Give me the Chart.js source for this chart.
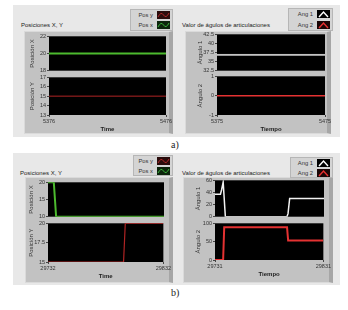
<!DOCTYPE html>
<html>
<head>
<meta charset="utf-8">
<script src="https://cdn.jsdelivr.net/npm/chart.js@4"></script>
<style>
body{margin:0;width:348px;height:310px;background:#fff;position:relative;overflow:hidden;font-family:"Liberation Sans",Arial,sans-serif}
.abs{position:absolute}
.outer{background:#e8e8e8}
.frame{background:#c2c2c2;border:1px solid #dadada;border-right:4px solid #a6a6a6;box-sizing:border-box}
.ttl{font-size:6px;color:#222;white-space:nowrap}
.leg{background:#d4d4d4;border:1px solid #b6b6b6;box-sizing:border-box}
.row{position:absolute;right:2px;height:8px;display:flex;align-items:center;gap:4px;font-size:5.8px;color:#333;white-space:nowrap}
.lbl{font-family:"Liberation Serif",serif;font-size:10px;color:#222}
canvas{position:absolute}
</style>
</head>
<body>
<div class="abs outer" style="left:13px;top:5px;width:327px;height:132px"></div>
<div class="abs outer" style="left:13px;top:153px;width:327px;height:132px"></div>

<div class="abs frame" style="left:24px;top:31px;width:149px;height:103px"></div>
<div class="abs frame" style="left:185px;top:31px;width:146px;height:103px"></div>
<div class="abs frame" style="left:25px;top:177px;width:148px;height:106px"></div>
<div class="abs frame" style="left:183px;top:177px;width:150px;height:106px"></div>

<div class="abs ttl" style="left:21px;top:22px">Posiciones X, Y</div>
<div class="abs ttl" style="left:182px;top:22px">Valor de águlos de articulaciones</div>
<div class="abs ttl" style="left:20px;top:170px">Posiciones X, Y</div>
<div class="abs ttl" style="left:182px;top:170px">Valor de águlos de articulaciones</div>

<div class="abs leg" style="left:130px;top:9px;width:43px;height:22px">
  <div class="row" style="top:1px">Pos y <svg width="13" height="8"><rect width="13" height="8" fill="#2a0c0c"/><path d="M1 6 Q4 0 6.5 4 T12 2" stroke="#b02a2a" fill="none"/></svg></div>
  <div class="row" style="top:11px">Pos x <svg width="13" height="8"><rect width="13" height="8" fill="#0c240c"/><path d="M1 6 Q4 0 6.5 4 T12 2" stroke="#3cb43c" fill="none"/></svg></div>
</div>
<div class="abs leg" style="left:288px;top:8px;width:45px;height:23px">
  <div class="row" style="top:1px">Ang 1 <svg width="13" height="8"><rect width="13" height="8" fill="#000"/><path d="M2 7 L6.5 2 L11 7" stroke="#fff" stroke-width="1.4" fill="none"/></svg></div>
  <div class="row" style="top:12px">Ang 2 <svg width="13" height="8"><rect width="13" height="8" fill="#1a0505"/><path d="M2 7 L6.5 2 L11 7" stroke="#e83030" stroke-width="1.4" fill="none"/></svg></div>
</div>
<div class="abs leg" style="left:133px;top:155px;width:40px;height:21px">
  <div class="row" style="top:1px">Pos y <svg width="13" height="8"><rect width="13" height="8" fill="#2a0c0c"/><path d="M1 6 Q4 0 6.5 4 T12 2" stroke="#b02a2a" fill="none"/></svg></div>
  <div class="row" style="top:11px">Pos x <svg width="13" height="8"><rect width="13" height="8" fill="#0c240c"/><path d="M1 6 Q4 0 6.5 4 T12 2" stroke="#3cb43c" fill="none"/></svg></div>
</div>
<div class="abs leg" style="left:290px;top:157px;width:43px;height:21px">
  <div class="row" style="top:1px">Ang 1 <svg width="13" height="8"><rect width="13" height="8" fill="#000"/><path d="M2 7 L6.5 2 L11 7" stroke="#fff" stroke-width="1.4" fill="none"/></svg></div>
  <div class="row" style="top:11px">Ang 2 <svg width="13" height="8"><rect width="13" height="8" fill="#1a0505"/><path d="M2 7 L6.5 2 L11 7" stroke="#e83030" stroke-width="1.4" fill="none"/></svg></div>
</div>

<div class="abs lbl" style="left:171px;top:139px">a)</div>
<div class="abs lbl" style="left:171px;top:287px">b)</div>

<script>
// a) positions
const tA = [5376, 5476];
const posXA = [20, 20];
const posYA = [15, 15];
// a) angles
const tAngA = [5375, 5475];
const ang2A = [0, 0];
const breakA = [37.1, 36.6];

// b) positions
const tB = [29732, 29737, 29739, 29797.5, 29799, 29832];
const posXB = [20, 20, 10, 10, 10, 10];
const posYB = [15, 15, 15, 15, 20, 20];
// b) angles
const tAng1B = [29731, 29736, 29737, 29738.5, 29739.2, 29740.5, 29797, 29798, 29799.5, 29831];
const ang1B = [37, 37, 44, 57, 57, 0, 0, 5, 30, 30];
const tAng2B = [29731, 29738.5, 29739.5, 29797.5, 29798.5, 29831];
const ang2B = [0, 0, 89, 89, 53, 53];

// tick values
const ticksPosXA = [18, 20, 22];
const ticksPosYA = [13, 14, 15, 16, 17];
const ticksAng1A = [32.5, 35, 37.5, 40, 42.5];
const ticksAng2A = [-1, 0, 1];
const ticksPosXB = [10, 15, 20];
const ticksPosYB = [15, 17.5, 20];
const ticksAng1B = [0, 20, 40, 60];
const ticksAng2B = [0, 50, 100];

const GREEN = '#4cba2e', RED_DARK = '#b02424', RED = '#e43232', WHITE = '#f2f2f2';

const blackBg = {
  id: 'blackBg',
  beforeDraw(c) {
    const a = c.chartArea;
    c.ctx.save();
    c.ctx.fillStyle = '#000';
    c.ctx.fillRect(a.left, a.top, a.width, a.height);
    c.ctx.restore();
  }
};

function axisBreak(range) {
  return {
    id: 'axisBreak',
    afterDatasetsDraw(c) {
      const a = c.chartArea, y = c.scales.y;
      const y1 = y.getPixelForValue(range[0]), y2 = y.getPixelForValue(range[1]);
      c.ctx.save();
      c.ctx.fillStyle = '#c2c2c2';
      c.ctx.fillRect(a.left, y1, a.width, y2 - y1);
      c.ctx.restore();
    }
  };
}

function plot(o) {
  const AX = 24, XH = 19, PT = 4;
  const bottom = !!o.xTitle;
  const PR = bottom ? 8 : 2, PB = bottom ? 0 : 2;
  const w = o.w + AX + PR, h = o.h + PT + (bottom ? XH : PB);
  const cv = document.createElement('canvas');
  cv.width = w; cv.height = h;
  cv.style.left = (o.x - AX) + 'px';
  cv.style.top = (o.y - PT) + 'px';
  document.body.appendChild(cv);
  const tickFont = { size: 5.5, family: '"Liberation Sans", Arial, sans-serif' };
  new Chart(cv, {
    type: 'line',
    data: {
      datasets: o.series.map(s => ({
        data: s.t.map((x, i) => ({ x: x, y: s.v[i] })),
        borderColor: s.c,
        borderWidth: s.bw,
        pointRadius: 0,
        tension: 0
      }))
    },
    options: {
      responsive: false,
      animation: false,
      devicePixelRatio: 1,
      layout: { padding: { top: PT, right: PR, bottom: PB, left: 0 } },
      plugins: { legend: { display: false }, tooltip: { enabled: false } },
      scales: {
        x: {
          type: 'linear',
          display: bottom,
          min: o.xr[0], max: o.xr[1],
          afterBuildTicks: s => { s.ticks = o.xr.map(v => ({ value: v })); },
          afterFit: s => { s.height = bottom ? XH : 0; },
          ticks: { font: tickFont, color: '#333', padding: 1, maxRotation: 0, autoSkip: false, callback: v => String(v) },
          grid: { drawOnChartArea: false, tickLength: 2, color: '#444' },
          border: { display: false },
          title: { display: bottom, text: o.xTitle, color: '#222', font: { size: 6, weight: 'bold' }, padding: { top: 0, bottom: 1 } }
        },
        y: {
          min: o.yr[0], max: o.yr[1],
          afterBuildTicks: s => { s.ticks = o.yt.map(v => ({ value: v })); },
          afterFit: s => { s.width = AX; },
          ticks: { font: tickFont, color: '#333', padding: 1, autoSkip: false, callback: v => String(v) },
          grid: { drawOnChartArea: false, tickLength: 2, color: '#444' },
          border: { display: false },
          title: { display: true, text: o.yTitle, color: '#333', font: { size: 6 }, padding: { top: 4, bottom: 0 } }
        }
      }
    },
    plugins: [blackBg].concat(o.extra || [])
  });
}

// a) left
plot({ x: 49, y: 36, w: 117, h: 37, xr: tA, yr: [18, 22], yt: ticksPosXA, yTitle: 'Posición X',
  series: [{ t: tA, v: posXA, c: GREEN, bw: 2 }] });
plot({ x: 49, y: 77, w: 117, h: 38, xr: tA, yr: [13, 17], yt: ticksPosYA, yTitle: 'Posición Y', xTitle: 'Time',
  series: [{ t: tA, v: posYA, c: RED_DARK, bw: 1 }] });
// a) right
plot({ x: 217, y: 34, w: 108, h: 39, xr: tAngA, yr: [32.5, 42.5], yt: ticksAng1A, yTitle: 'Ángulo 1',
  series: [], extra: [axisBreak(breakA)] });
plot({ x: 217, y: 76, w: 108, h: 39, xr: tAngA, yr: [-1, 1], yt: ticksAng2A, yTitle: 'Ángulo 2', xTitle: 'Tiempo',
  series: [{ t: tAngA, v: ang2A, c: RED, bw: 1.5 }] });
// b) left
plot({ x: 48, y: 182, w: 116, h: 37, xr: [tB[0], tB[tB.length - 1]], yr: [10, 20], yt: ticksPosXB, yTitle: 'Posición X',
  series: [{ t: tB, v: posXB, c: GREEN, bw: 2 }] });
plot({ x: 48, y: 223, w: 116, h: 39, xr: [tB[0], tB[tB.length - 1]], yr: [15, 20], yt: ticksPosYB, yTitle: 'Posición Y', xTitle: 'Time',
  series: [{ t: tB, v: posYB, c: RED_DARK, bw: 1.2 }] });
// b) right
plot({ x: 215, y: 180, w: 109, h: 39, xr: [tAng1B[0], tAng1B[tAng1B.length - 1]], yr: [0, 60], yt: ticksAng1B, yTitle: 'Ángulo 1',
  series: [{ t: tAng1B, v: ang1B, c: WHITE, bw: 1.5 }] });
plot({ x: 215, y: 223, w: 109, h: 37, xr: [tAng2B[0], tAng2B[tAng2B.length - 1]], yr: [0, 100], yt: ticksAng2B, yTitle: 'Ángulo 2', xTitle: 'Tiempo',
  series: [{ t: tAng2B, v: ang2B, c: RED, bw: 2 }] });
</script>
</body>
</html>
